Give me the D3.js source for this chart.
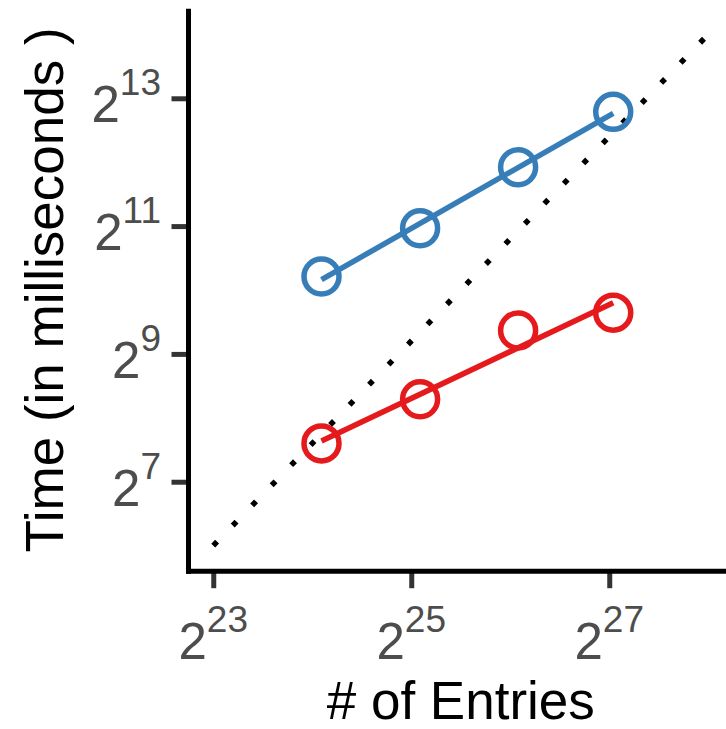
<!DOCTYPE html>
<html>
<head>
<meta charset="utf-8">
<script src="https://cdn.jsdelivr.net/npm/d3@7"></script>
<style>
  html, body { margin: 0; padding: 0; background: #ffffff; }
  svg { display: block; }
  text { font-family: "Liberation Sans", Arial, Helvetica, sans-serif; }
</style>
</head>
<body>
<svg id="chart" width="726" height="729"></svg>
<script>
// ---- data ----
const entries = [17.9e6, 35.7e6, 70.9e6, 138.0e6];          // # of entries
const seriesNames = ["slow", "fast"];
const timeBlue = [1185, 2000, 3875, 7070];                   // ms
const timeRed  = [194, 313, 660, 801];                       // ms
const refLineX = [Math.pow(2, 23), Math.pow(2, 28)];          // dotted reference
const refLineY = [Math.pow(2, 6), Math.pow(2, 14)];
const xTickExps = [23, 25, 27];
const yTickExps = [7, 9, 11, 13];
const colors = ["#377eb8", "#e41a1c"];

// ---- layout ----
const W = 726, H = 729;
const panel = { left: 188.5, right: 733, top: 8.8, bottom: 571.2 };

const x = d3.scaleLog().base(2)
  .domain([Math.pow(2, 22.75), Math.pow(2, 28.25)])
  .range([panel.left, panel.right]);
const y = d3.scaleLog().base(2)
  .domain([Math.pow(2, 5.6), Math.pow(2, 14.4)])
  .range([panel.bottom, panel.top]);

const svg = d3.select("#chart");

// dotted reference line
svg.append("line")
  .attr("x1", x(refLineX[0])).attr("y1", y(refLineY[0]))
  .attr("x2", x(refLineX[1])).attr("y2", y(refLineY[1]))
  .attr("stroke", "#000").attr("stroke-width", 5.5)
  .attr("stroke-dasharray", "5.5 22.5");

// series
const series = [
  { name: seriesNames[0], values: timeBlue, color: colors[0] },
  { name: seriesNames[1], values: timeRed, color: colors[1] }
];

function fit(xs, ys) {
  const lx = xs.map(v => Math.log2(v)), ly = ys.map(v => Math.log2(v));
  const mx = d3.mean(lx), my = d3.mean(ly);
  const b = d3.sum(lx.map((v, i) => (v - mx) * (ly[i] - my))) / d3.sum(lx.map(v => (v - mx) * (v - mx)));
  const a = my - b * mx;
  return v => Math.pow(2, a + b * Math.log2(v));
}

series.forEach(s => {
  const f = fit(entries, s.values);
  const x0 = d3.min(entries), x1 = d3.max(entries);
  svg.append("line")
    .attr("x1", x(x0)).attr("y1", y(f(x0)))
    .attr("x2", x(x1)).attr("y2", y(f(x1)))
    .attr("stroke", s.color).attr("stroke-width", 5.5);
  svg.append("g").selectAll("circle")
    .data(s.values)
    .join("circle")
    .attr("cx", (d, i) => x(entries[i]))
    .attr("cy", d => y(d))
    .attr("r", 17.5)
    .attr("fill", "none")
    .attr("stroke", s.color)
    .attr("stroke-width", 5.5);
});

// axes
const tickColor = "#333333", labelColor = "#4d4d4d";
const baseFont = 51, supFont = 37;

const xAxis = d3.axisBottom(x)
  .tickValues(xTickExps.map(e => Math.pow(2, e)))
  .tickSize(17).tickFormat("");
const gx = svg.append("g").attr("transform", `translate(0,${panel.bottom})`).call(xAxis);
gx.select(".domain").remove();
gx.selectAll(".tick line").attr("stroke", tickColor).attr("stroke-width", 5);

const yAxis = d3.axisLeft(y)
  .tickValues(yTickExps.map(e => Math.pow(2, e)))
  .tickSize(17).tickFormat("");
const gy = svg.append("g").attr("transform", `translate(${panel.left},0)`).call(yAxis);
gy.select(".domain").remove();
gy.selectAll(".tick line").attr("stroke", tickColor).attr("stroke-width", 5);

// axis lines
svg.append("line")
  .attr("x1", panel.left).attr("x2", panel.left)
  .attr("y1", panel.top).attr("y2", panel.bottom + 2.5)
  .attr("stroke", "#000").attr("stroke-width", 5);
svg.append("line")
  .attr("x1", panel.left - 2.5).attr("x2", W)
  .attr("y1", panel.bottom).attr("y2", panel.bottom)
  .attr("stroke", "#000").attr("stroke-width", 5);

// tick labels with superscripts
xTickExps.forEach(e => {
  const t = svg.append("text")
    .attr("x", x(Math.pow(2, e)))
    .attr("y", 659)
    .attr("text-anchor", "middle")
    .attr("fill", labelColor)
    .attr("font-size", baseFont);
  t.append("tspan").text("2");
  t.append("tspan").attr("dy", -27).attr("font-size", supFont).text(e);
});
yTickExps.forEach(e => {
  const t = svg.append("text")
    .attr("x", 161)
    .attr("y", y(Math.pow(2, e)) + 24)
    .attr("text-anchor", "end")
    .attr("fill", labelColor)
    .attr("font-size", baseFont);
  t.append("tspan").text("2");
  t.append("tspan").attr("dy", -27).attr("font-size", supFont).text(e);
});

// axis titles
svg.append("text")
  .attr("x", (panel.left + panel.right) / 2)
  .attr("y", 719)
  .attr("text-anchor", "middle")
  .attr("fill", "#000")
  .attr("font-size", 53)
  .text("# of Entries");
svg.append("text")
  .attr("transform", `translate(63,${(panel.top + panel.bottom) / 2}) rotate(-90)`)
  .attr("text-anchor", "middle")
  .attr("fill", "#000")
  .attr("font-size", 53)
  .text("Time (in milliseconds )");
</script>
</body>
</html>
